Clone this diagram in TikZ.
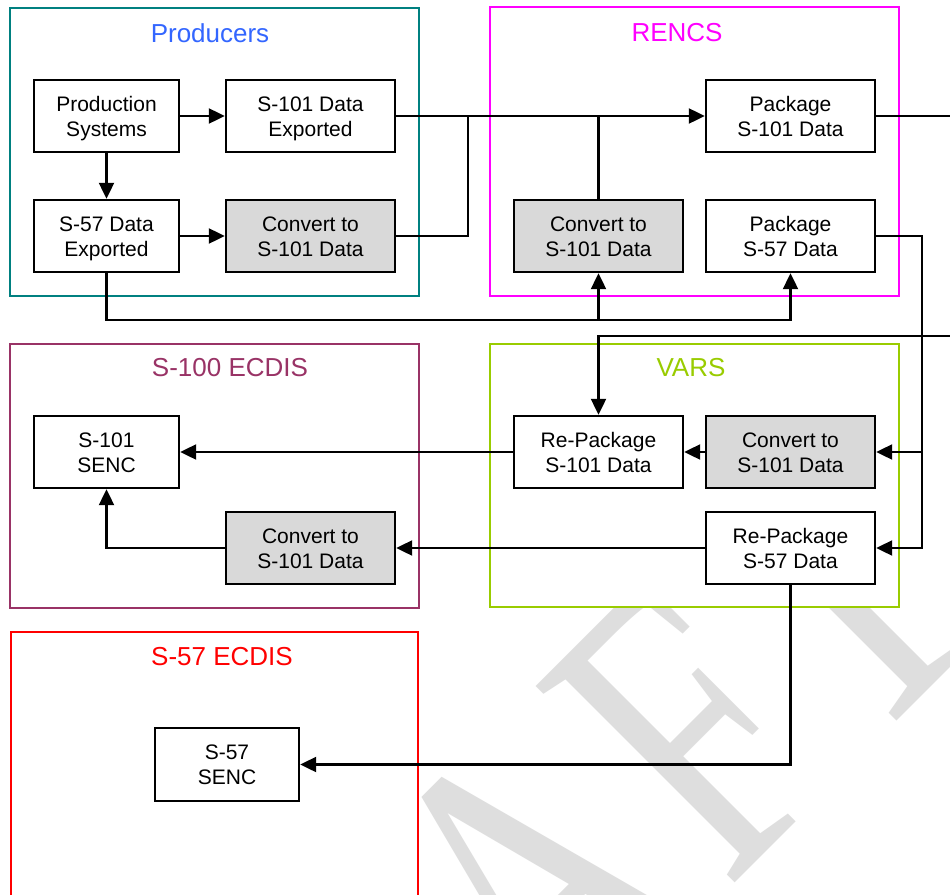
\documentclass[tikz,border=0pt]{standalone}
\usepackage{fontspec}
\setmainfont{Liberation Sans}
\newfontfamily\wmfont[FakeStretch=0.72,LetterSpace=5.15,Kerning=Off]{Liberation Serif}
\usetikzlibrary{arrows.meta,calc}
\definecolor{prodteal}{RGB}{0,128,128}
\definecolor{prodblue}{RGB}{51,102,255}
\definecolor{rencsmag}{RGB}{255,0,255}
\definecolor{varsgreen}{RGB}{153,204,0}
\definecolor{ecdisplum}{RGB}{153,51,102}
\definecolor{ecdisred}{RGB}{255,0,0}
\definecolor{procgray}{RGB}{217,217,217}
\definecolor{wmgray}{RGB}{222,222,222}
\begin{document}
\begin{tikzpicture}[x=1pt,y=-1pt,
  proc/.style={draw=black, line width=2.4pt, fill=white, minimum height=72pt,
    inner sep=0pt, align=center, font=\fontsize{21}{25}\selectfont,
    text height=45pt, text depth=4.5pt},
  wide/.style={proc, minimum width=169pt},
  narrow/.style={proc, minimum width=145pt},
  conv/.style={wide, fill=procgray},
  group/.style={draw=#1, line width=2.2pt, fill=white, inner sep=0pt},
  title/.style={text=#1, font=\fontsize{26}{30}\selectfont, inner sep=0pt},
  flow/.style={line width=2.2pt, draw=black},
  arr/.style={flow, -{Triangle[length=16pt,width=15pt]}},
]
\useasboundingbox (0,0) rectangle (950,894);
\clip (0,0) rectangle (950,894);
\fill[white] (0,0) rectangle (950,894);

% watermark
\node[rotate=45, anchor=base west, text=wmgray, inner sep=0pt,
  font=\wmfont\fontsize{427}{427}\selectfont] (wm) at (221.5,1396.5) {DRAFT};

% group boxes
\node[group=prodteal, minimum width=409pt, minimum height=288pt] (gprod) at (214.5,152) {};
\node[group=rencsmag, minimum width=409pt, minimum height=289pt] (grencs) at (694.5,151.5) {};
\node[group=ecdisplum, minimum width=409pt, minimum height=264pt] (gs100) at (214.5,476) {};
\node[group=varsgreen, minimum width=409pt, minimum height=263pt] (gvars) at (694.5,475.5) {};
\node[group=ecdisred, minimum width=407pt, minimum height=368pt] (gs57) at (214.5,816) {};

\node[title=prodblue] (tprod) at (210,33) {Producers};
\node[title=rencsmag] (trencs) at (677,33) {RENCS};
\node[title=ecdisplum] (ts100) at (230,368) {S-100 ECDIS};
\node[title=varsgreen] (tvars) at (691,368) {VARS};
\node[title=ecdisred] (ts57) at (222,657) {S-57 ECDIS};

% process boxes
\node[narrow] (prod) at (106.5,116) {Production\\Systems};
\node[wide] (s101exp) at (310.5,116) {S-101 Data\\Exported};
\node[narrow] (s57exp) at (106.5,236) {S-57 Data\\Exported};
\node[conv] (convP) at (310.5,236) {Convert to\\S-101 Data};

\node[wide] (pkg101) at (790.5,116) {Package\\S-101 Data};
\node[conv] (convR) at (598.5,236) {Convert to\\S-101 Data};
\node[wide] (pkg57) at (790.5,236) {Package\\S-57 Data};

\node[wide] (repkg101) at (598.5,452) {Re-Package\\S-101 Data};
\node[conv] (convV) at (790.5,452) {Convert to\\S-101 Data};
\node[wide] (repkg57) at (790.5,548) {Re-Package\\S-57 Data};

\node[narrow] (senc101) at (106.5,452) {S-101\\SENC};
\node[conv] (convE) at (310.5,548) {Convert to\\S-101 Data};

\node[proc, minimum width=144pt, minimum height=73pt] (senc57) at (227,764.5) {S-57\\SENC};

% helper coordinates
\coordinate (j1) at (468,116);
\coordinate (bus) at (0,320);
\coordinate (offA) at (965,116);
\coordinate (offB) at (965,336);
\coordinate (vr) at (922,236);

% connectors
\draw[arr] (prod.east) -- (s101exp.west);
\draw[arr] (prod.south) -- (s57exp.north);
\draw[arr] (s57exp.east) -- (convP.west);
\draw[arr] (s101exp.east) -- (pkg101.west);
\draw[flow] (convP.east) -| (j1);
\draw[flow] (convR.north) -- (convR.north |- pkg101.west);
\draw[arr] (s57exp.south) |- (bus -| convR.south) -- (convR.south);
\draw[arr] (bus -| convR.south) -| (pkg57.south);

\draw[arr] (pkg101.east) -- (offA) -- (offB) -| (repkg101.north);
\draw[arr] (pkg57.east) -- (vr) |- (repkg57.east);
\draw[arr] (vr |- convV.east) -- (convV.east);
\draw[arr] (convV.west) -- (repkg101.east);
\draw[arr] (repkg101.west) -- (senc101.east);
\draw[arr] (repkg57.west) -- (convE.east);
\draw[arr] (convE.west) -| (senc101.south);
\draw[arr] (repkg57.south) |- (senc57.east);
\end{tikzpicture}
\end{document}
